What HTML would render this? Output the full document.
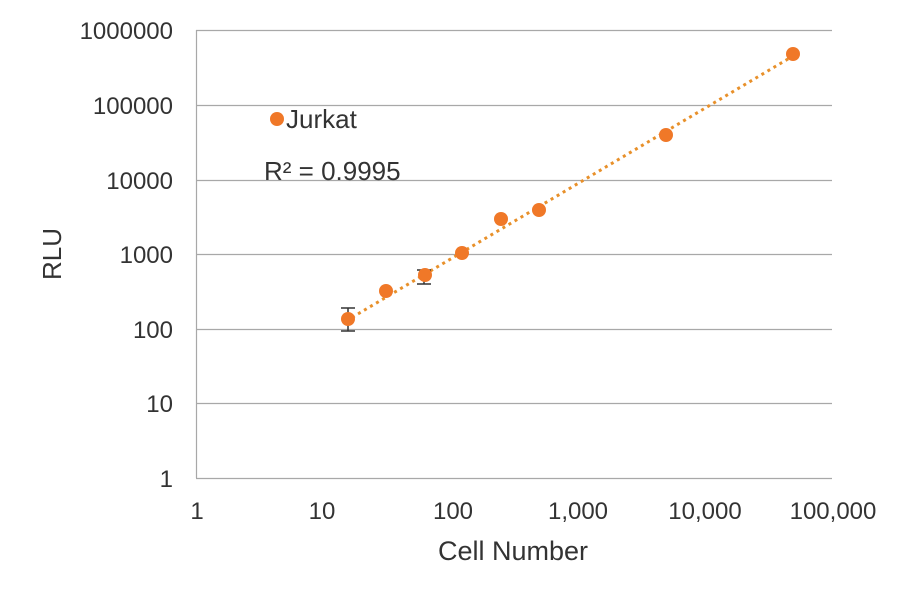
<!DOCTYPE html>
<html><head><meta charset="utf-8"><style>
body{margin:0;background:#fff;}
svg{display:block;font-family:"Liberation Sans",Arial,sans-serif;}
</style></head><body>
<svg width="920" height="605" viewBox="0 0 920 605" xmlns="http://www.w3.org/2000/svg">
<rect width="920" height="605" fill="#fff"/>
<g stroke="#a8a8a8" stroke-width="1.2">
<line x1="196" y1="30.5" x2="832" y2="30.5"/>
<line x1="196" y1="105.5" x2="832" y2="105.5"/>
<line x1="196" y1="180.5" x2="832" y2="180.5"/>
<line x1="196" y1="254.5" x2="832" y2="254.5"/>
<line x1="196" y1="329.5" x2="832" y2="329.5"/>
<line x1="196" y1="403.5" x2="832" y2="403.5"/>
<line x1="196" y1="478.5" x2="832" y2="478.5"/>
<line x1="196.5" y1="30" x2="196.5" y2="478"/>
</g>
<g font-size="24" fill="#333" text-anchor="end">
<text x="173" y="39">1000000</text>
<text x="173" y="114">100000</text>
<text x="173" y="189">10000</text>
<text x="173" y="263">1000</text>
<text x="173" y="338">100</text>
<text x="173" y="412">10</text>
<text x="173" y="487">1</text>
</g>
<g font-size="24" fill="#333" text-anchor="middle">
<text x="197" y="519">1</text>
<text x="322" y="519">10</text>
<text x="453" y="519">100</text>
<text x="578" y="519">1,000</text>
<text x="705" y="519">10,000</text>
<text x="833" y="519">100,000</text>
</g>
<text x="513" y="560" font-size="27" fill="#333" text-anchor="middle">Cell Number</text>
<text transform="translate(61,254) rotate(-90)" font-size="26" fill="#333" text-anchor="middle">RLU</text>
<line x1="346" y1="321" x2="793" y2="56" stroke="#e8902a" stroke-width="3" stroke-dasharray="3,4"/>
<g stroke="#333" stroke-width="1.5">
<line x1="348" y1="308" x2="348" y2="331"/><line x1="341" y1="308" x2="355" y2="308"/><line x1="341" y1="331" x2="355" y2="331"/>
<line x1="424" y1="270" x2="424" y2="284"/><line x1="417" y1="270" x2="431" y2="270"/><line x1="417" y1="284" x2="431" y2="284"/>
</g>
<g fill="#f07828">
<circle cx="348" cy="319" r="7"/>
<circle cx="386" cy="291" r="7"/>
<circle cx="425" cy="275" r="7"/>
<circle cx="462" cy="253" r="7"/>
<circle cx="501" cy="219" r="7"/>
<circle cx="539" cy="210" r="7"/>
<circle cx="666" cy="135" r="7"/>
<circle cx="793" cy="54" r="7"/>
<circle cx="277" cy="119" r="7"/>
</g>
<text x="286" y="128" font-size="26" fill="#333">Jurkat</text>
<text x="264" y="180" font-size="26" fill="#333">R² = 0.9995</text>
</svg>
</body></html>
